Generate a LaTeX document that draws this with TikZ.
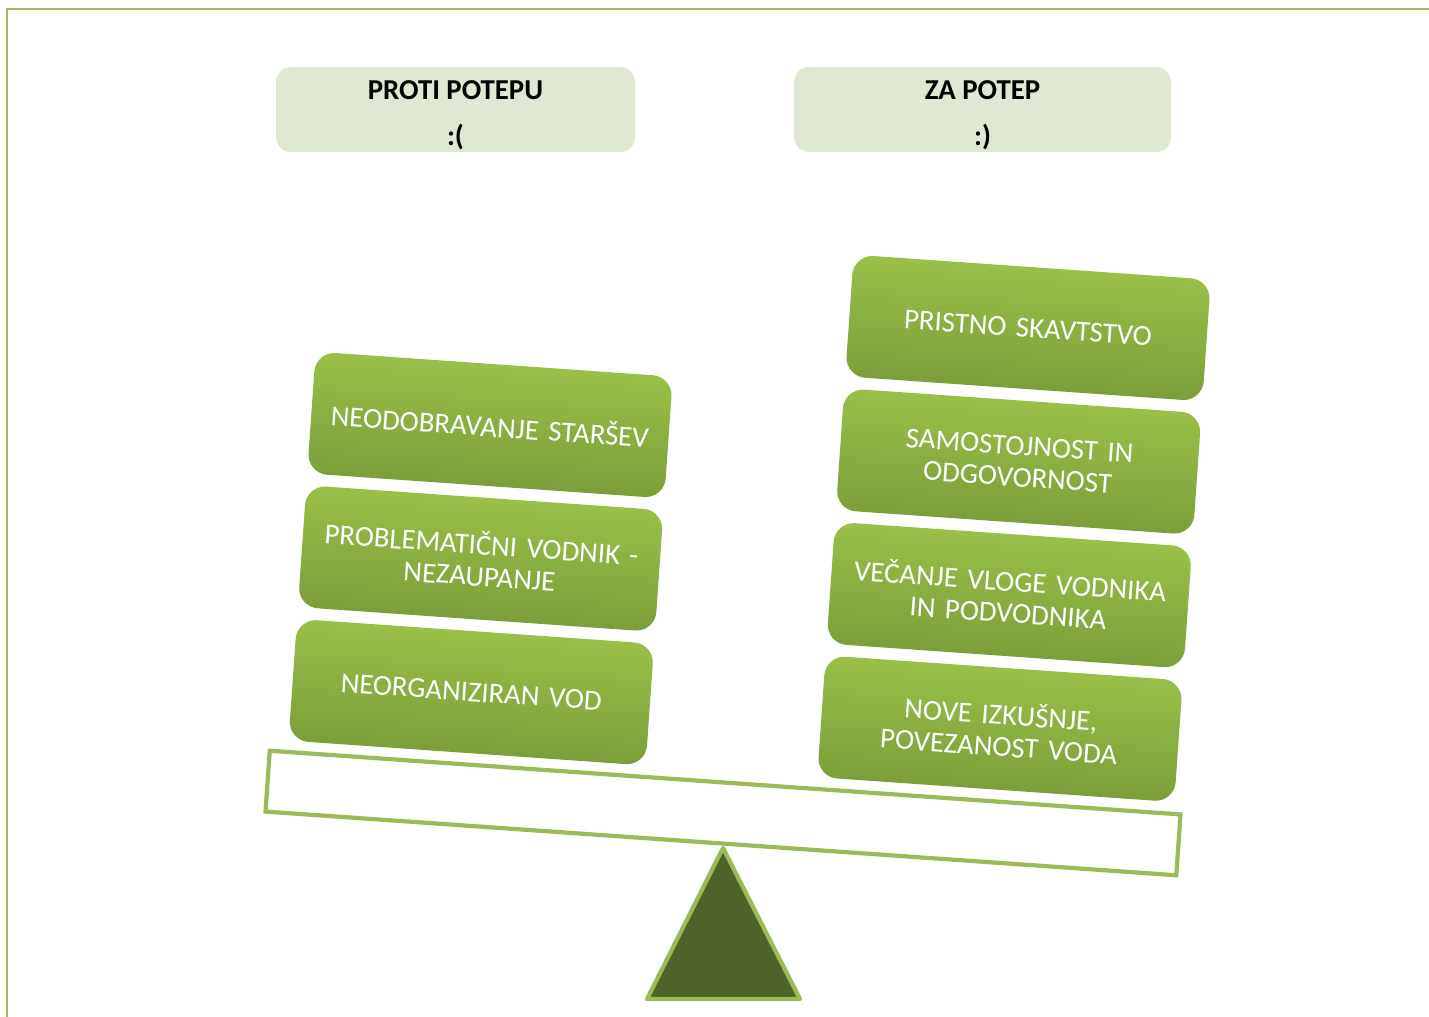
\documentclass[tikz,border=0pt]{standalone}
\usepackage{fontspec}
\setmainfont{Carlito}
\usepackage{xcolor}
\usepackage{tikz}
\usetikzlibrary{positioning}

\definecolor{headgreen}{RGB}{223,232,210}
\definecolor{linegreen}{RGB}{155,187,89}
\definecolor{boxtop}{RGB}{158,197,75}
\definecolor{boxbottom}{RGB}{119,153,56}
\definecolor{darkgreen}{RGB}{79,98,40}

\begin{document}
\begin{tikzpicture}[
header/.style={rectangle, fill=headgreen, rounded corners=1.5mm, minimum height=0.85cm, align=center, inner sep=0pt, font=\fontsize{8.2}{10}\selectfont\bfseries},
reason/.style={rectangle, top color=boxtop, bottom color=boxbottom, shading angle=-4, rounded corners=2mm, minimum width=3.58cm, minimum height=1.22cm, text width=3.4cm, align=center, text=white, inner sep=0pt, rotate=-4, font=\fontsize{8.2}{9}\selectfont},
beam/.style={rectangle, draw=linegreen, line width=1.2pt, fill=white, minimum width=9.13cm, minimum height=0.61cm, inner sep=0pt, rotate=-4},
fulcrum/.style={draw=linegreen, line width=1.2pt, fill=darkgreen, line join=round}
]
	\useasboundingbox (0,0) rectangle (14.29,-10.17);
	\draw[linegreen, line width=0.6pt] (0.07,-10.4) -- (0.07,-0.09) -- (14.5,-0.09);
	\node[header, minimum width=3.59cm] (h1) at (4.555,-1.095) {\rule{0pt}{8.5pt}PROTI POTEPU\\[3.2pt]:(};
	\node[header, minimum width=3.77cm] (h2) at (9.825,-1.095) {\rule{0pt}{8.5pt}ZA POTEP\\[3.2pt]:)};
	\node[beam] (b) at (7.23,-8.13) {};
	\draw[fulcrum] (7.23,-8.48) -- (6.47,-9.99) -- (8.0,-9.99) -- cycle;
	% proti
	\node[reason] (n1) at (4.90,-4.25) {NEODOBRAVANJE STARŠEV};
	\node[reason, anchor=north, shift={(0mm,-1.05mm)}] (n2) at (n1.south) {PROBLEMATIČNI VODNIK -\\NEZAUPANJE};
	\node[reason, anchor=north, shift={(0mm,-1.05mm)}] (n3) at (n2.south) {NEORGANIZIRAN VOD};
	% za
	\node[reason] (n4) at (10.28,-3.28) {PRISTNO SKAVTSTVO};
	\node[reason, anchor=north, shift={(0mm,-1.05mm)}] (n5) at (n4.south) {SAMOSTOJNOST IN\\ODGOVORNOST};
	\node[reason, anchor=north, shift={(0mm,-1.05mm)}] (n6) at (n5.south) {VEČANJE VLOGE VODNIKA\\IN PODVODNIKA};
	\node[reason, anchor=north, shift={(0mm,-1.05mm)}] (n7) at (n6.south) {NOVE IZKUŠNJE,\\POVEZANOST VODA};
\end{tikzpicture}
\end{document}
